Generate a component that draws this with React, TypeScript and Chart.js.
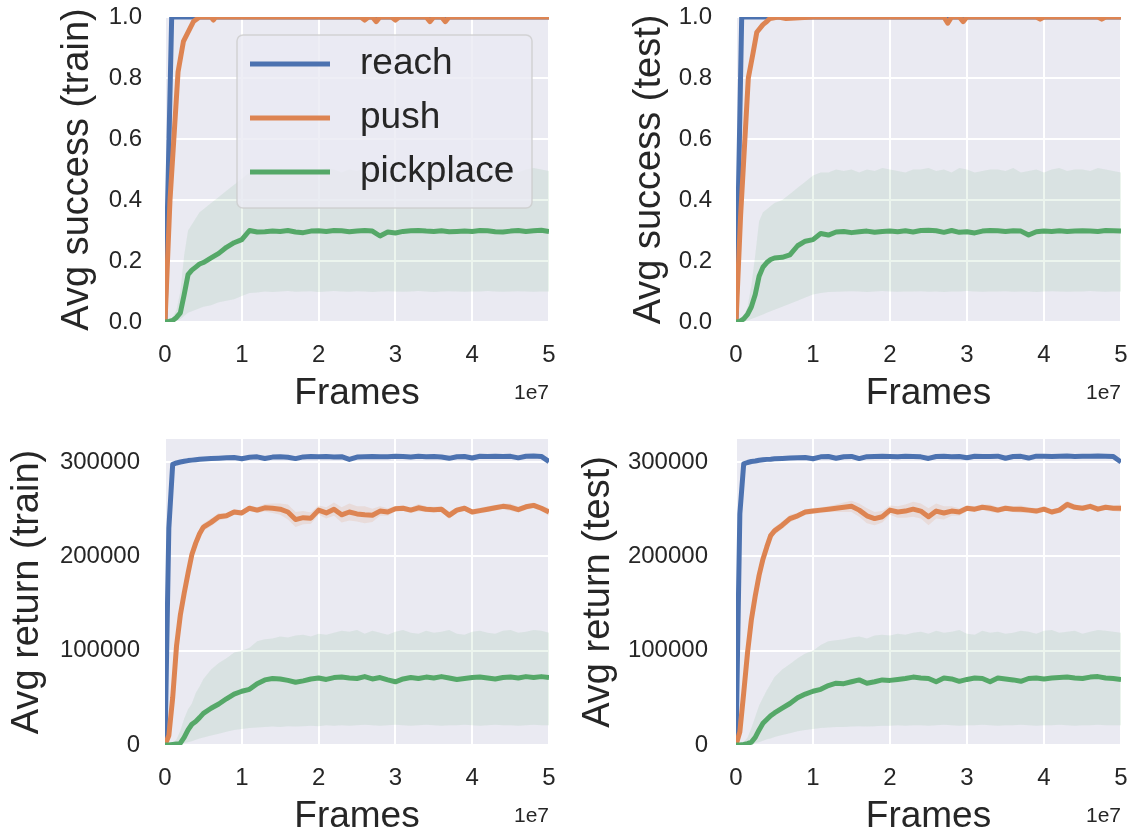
import React, { useEffect, useRef } from 'react';
import { Chart, registerables } from 'chart.js';

Chart.register(...registerables);

const FONT = '"Liberation Sans", Arial, Helvetica, sans-serif';
const TEXT = '#262626';
const BG = '#EAEAF2';
const BLUE = '#4C72B0';
const ORANGE = '#DD8452';
const GREEN = '#55A868';

const SERIES = ['reach', 'push', 'pickplace'];
const X_TICKS = [0, 1, 2, 3, 4, 5]; // frames, in units of 1e7
const SUCCESS_TICKS = [0, 0.2, 0.4, 0.6, 0.8, 1.0];
const RETURN_TICKS = [0, 100000, 200000, 300000];

// Shared x grid (frames / 1e7)
const GRID = [0, 0.05, 0.1, 0.15, 0.2, 0.25, 0.3, 0.35, 0.4, 0.45, 0.5,
  0.6, 0.7, 0.8, 0.9, 1.0, 1.1, 1.2, 1.3, 1.4, 1.5, 1.6, 1.7, 1.8, 1.9, 2.0,
  2.1, 2.2, 2.3, 2.4, 2.5, 2.6, 2.7, 2.8, 2.9, 3.0, 3.1, 3.2, 3.3, 3.4, 3.5,
  3.6, 3.7, 3.8, 3.9, 4.0, 4.1, 4.2, 4.3, 4.4, 4.5, 4.6, 4.7, 4.8, 4.9, 5.0];

// ---------- Avg success (train) ----------
const S_TRAIN_REACH_X = [0, 0.087, 5];
const S_TRAIN_REACH = [0, 1, 1];
const S_TRAIN_PUSH_X = [0, 0.065, 0.17, 0.24, 0.37, 0.45, 0.55, 0.6, 0.63, 0.66, 1.0, 2.0, 2.55, 2.6, 2.65, 2.7, 2.75, 2.8, 2.95, 3.0, 3.05, 3.4, 3.45, 3.5, 3.6, 3.65, 3.7, 5.0];
const S_TRAIN_PUSH = [0, 0.40, 0.82, 0.92, 0.985, 1.0, 1.0, 1.0, 0.99, 1.0, 1.0, 1.0, 1.0, 0.99, 1.0, 1.0, 0.985, 1.0, 1.0, 0.99, 1.0, 1.0, 0.985, 1.0, 1.0, 0.985, 1.0, 1.0];
const S_TRAIN_PICK = [0, 0.002, 0.005, 0.015, 0.03, 0.09, 0.155, 0.17, 0.18, 0.19, 0.195,
  0.21, 0.225, 0.245, 0.26, 0.27, 0.30, 0.295,
  0.296, 0.298, 0.297, 0.300, 0.295, 0.293, 0.298, 0.299, 0.297, 0.300,
  0.299, 0.296, 0.298, 0.300, 0.298, 0.282, 0.295, 0.292, 0.297, 0.299,
  0.300, 0.298, 0.297, 0.299, 0.296, 0.297, 0.298, 0.297, 0.300, 0.299,
  0.296, 0.295, 0.298, 0.300, 0.297, 0.299, 0.301, 0.297];
const S_TRAIN_PICK_UP = [0, 0.005, 0.015, 0.04, 0.1, 0.22, 0.3, 0.32, 0.34, 0.36, 0.37,
  0.39, 0.41, 0.43, 0.45, 0.47, 0.49, 0.48,
  0.495, 0.49, 0.5, 0.495, 0.485, 0.5, 0.49, 0.495, 0.505, 0.5,
  0.49, 0.5, 0.495, 0.505, 0.49, 0.5, 0.495, 0.49, 0.5, 0.505,
  0.495, 0.5, 0.49, 0.495, 0.5, 0.505, 0.495, 0.49, 0.5, 0.495,
  0.505, 0.5, 0.495, 0.49, 0.5, 0.505, 0.5, 0.495];
const S_TRAIN_PICK_LO = [0, 0, 0.002, 0.005, 0.01, 0.02, 0.03, 0.035, 0.04, 0.045, 0.05,
  0.055, 0.065, 0.07, 0.075, 0.085, 0.095, 0.097,
  0.1, 0.098, 0.1, 0.102, 0.099, 0.1, 0.101, 0.098, 0.1, 0.102,
  0.1, 0.099, 0.101, 0.1, 0.098, 0.1, 0.101, 0.1, 0.099, 0.1,
  0.102, 0.1, 0.098, 0.1, 0.101, 0.1, 0.099, 0.1, 0.1, 0.102,
  0.1, 0.099, 0.1, 0.101, 0.1, 0.099, 0.1, 0.1];

// ---------- Avg success (test) ----------
const S_TEST_REACH_X = [0, 0.074, 5];
const S_TEST_REACH = [0, 1, 1];
const S_TEST_PUSH_X = [0, 0.06, 0.16, 0.22, 0.27, 0.35, 0.4, 0.44, 0.55, 0.65, 1.0, 1.7, 2.7, 2.75, 2.8, 2.85, 2.9, 2.95, 3.0, 3.3, 3.9, 3.95, 4.0, 4.7, 4.75, 4.8, 5.0];
const S_TEST_PUSH = [0, 0.35, 0.80, 0.88, 0.95, 0.975, 0.985, 0.995, 1.0, 0.995, 1.0, 1.0, 1.0, 0.98, 1.0, 1.0, 1.0, 0.985, 1.0, 1.0, 1.0, 0.993, 1.0, 1.0, 0.993, 1.0, 1.0];
const S_TEST_PICK = [0, 0.002, 0.01, 0.025, 0.05, 0.09, 0.15, 0.18, 0.195, 0.205, 0.21,
  0.212, 0.22, 0.25, 0.265, 0.27, 0.29, 0.285,
  0.295, 0.297, 0.293, 0.296, 0.298, 0.294, 0.297, 0.298, 0.296, 0.299,
  0.295, 0.3, 0.301, 0.299, 0.294, 0.3, 0.294, 0.296, 0.292, 0.298,
  0.3, 0.299, 0.297, 0.299, 0.298, 0.285, 0.296, 0.298, 0.297, 0.299,
  0.297, 0.298, 0.299, 0.298, 0.297, 0.3, 0.299, 0.298];
const S_TEST_PICK_UP = [0, 0.005, 0.02, 0.05, 0.12, 0.22, 0.33, 0.36, 0.37, 0.38, 0.39,
  0.40, 0.42, 0.44, 0.46, 0.48, 0.49, 0.49,
  0.5, 0.495, 0.5, 0.49, 0.5, 0.495, 0.505, 0.5, 0.495, 0.49,
  0.5, 0.5, 0.505, 0.495, 0.5, 0.49, 0.505, 0.5, 0.49, 0.495,
  0.5, 0.5, 0.495, 0.505, 0.49, 0.495, 0.5, 0.49, 0.5, 0.505,
  0.495, 0.5, 0.5, 0.495, 0.505, 0.5, 0.495, 0.49];
const S_TEST_PICK_LO = [0, 0, 0.002, 0.005, 0.01, 0.015, 0.02, 0.025, 0.03, 0.035, 0.04,
  0.05, 0.06, 0.07, 0.08, 0.09, 0.095, 0.098,
  0.099, 0.1, 0.101, 0.1, 0.098, 0.1, 0.102, 0.1, 0.099, 0.1,
  0.1, 0.101, 0.099, 0.1, 0.098, 0.1, 0.1, 0.102, 0.1, 0.099,
  0.1, 0.1, 0.101, 0.099, 0.1, 0.1, 0.098, 0.1, 0.101, 0.1,
  0.099, 0.1, 0.1, 0.102, 0.1, 0.099, 0.1, 0.1];

// ---------- Avg return (train) ----------
const R_TRAIN_REACH = [0, 230000, 297500, 299000, 300000, 300800, 301500, 302000, 302500, 303000, 303200,
  303600, 304000, 304500, 304800,
  303500, 305000, 305500, 303800, 305200, 305600, 305000, 303600, 305400, 305800,
  305500, 305900, 305200, 305700, 302800, 305300, 305600, 305900, 305700, 305500,
  306000, 305800, 305400, 306000, 305600, 305900, 305300, 303900, 305600, 305800,
  304200, 306100, 305900, 306200, 305800, 306000, 304400, 306100, 306300, 305900,
  300500];
const R_TRAIN_PUSH = [0, 10000, 50000, 105000, 138000, 161000, 182000, 202000, 214000, 224000, 231000,
  236000, 242000, 243000, 247000, 246000, 251000, 249000, 251500, 251000, 250000, 247000, 239000, 241000, 240500, 249000,
  246000, 250000, 244000, 247000, 245000, 244000, 243500, 248000, 247000, 250500,
  251000, 249000, 251500, 250000, 249500, 250000, 243500, 249000, 251000, 247000,
  248500, 250000, 251500, 253000, 252000, 249500, 252500, 254000, 251000, 247000];
const R_TRAIN_PUSH_STD = [0, 1000, 3000, 4000, 4000, 4000, 4000, 4000, 4000, 4000, 4000,
  4000, 4000, 3000, 3000, 3000, 3000, 3000, 4000, 5000, 6000, 8000, 8000, 7000, 6000, 5000,
  6000, 7000, 8000, 9000, 8000, 9000, 7000, 5000, 4000, 3000,
  3000, 3000, 4000, 3000, 3000, 3000, 4000, 3000, 3000, 3000,
  3000, 3000, 3000, 3000, 4000, 3000, 3000, 3000, 3000, 4000];
const R_TRAIN_PICK = [0, 0, 500, 1000, 2000, 8000, 16000, 22000, 25000, 29000, 33500,
  39000, 43500, 49000, 54000, 57000, 59000, 65000,
  69000, 70500, 70000, 68500, 66500, 68000, 70000, 71000, 69500, 71500,
  72000, 71000, 70500, 72500, 70000, 71500, 69000, 67000, 70000, 71500,
  70500, 72000, 71000, 72500, 71000, 69500, 70500, 71500, 72000, 71000,
  70000, 71500, 72000, 71000, 72500, 71500, 72500, 71500];
const R_TRAIN_PICK_UP = [0, 0, 2000, 6000, 15000, 28000, 38000, 44000, 55000, 62000, 70000,
  80000, 87000, 92000, 98000, 100000, 103000, 110000,
  112000, 113000, 115000, 114000, 116000, 117000, 115000, 118000, 117000, 119000,
  121000, 120000, 122000, 118000, 121000, 119000, 117000, 120000, 122000, 119000,
  118000, 121000, 119000, 120000, 122000, 118000, 117000, 120000, 121000, 119000,
  118000, 121000, 122000, 119000, 120000, 122000, 121000, 119000];
const R_TRAIN_PICK_LO = [0, 0, 0, 500, 1000, 2000, 3000, 4000, 5500, 7000, 8000,
  10000, 12000, 14000, 16000, 17000, 18000, 18500,
  19000, 19500, 19000, 20000, 19500, 20000, 20500, 20000, 21000, 20500,
  21000, 20500, 21000, 21500, 21000, 20500, 21000, 21500, 21000, 20500,
  21000, 21500, 21000, 20500, 21000, 21000, 21500, 21000, 20500, 21000,
  21500, 21000, 21000, 20500, 21000, 21500, 21000, 21000];

// ---------- Avg return (test) ----------
const R_TEST_REACH = [0, 245000, 298000, 299500, 300500, 301000, 301800, 302300, 302800, 303000, 303400,
  303800, 304200, 304500, 304800, 303500,
  305500, 305800, 304000, 305600, 305900, 303600, 305700, 305900, 306000, 305800,
  305600, 306100, 305900, 305500, 303800, 305800, 306000, 305700, 305900, 304500,
  306100, 305900, 305800, 306200, 304000, 305900, 306000, 304200, 306200, 306000,
  305800, 306100, 306300, 305900, 306200, 306000, 306300, 306100, 305900,
  300000];
const R_TEST_PUSH = [0, 14000, 55000, 98000, 133000, 158000, 180000, 197000, 210000, 222000, 227000,
  233000, 240000, 243000, 247000, 248000, 249000, 250000, 251000, 252000, 253000, 249000, 243000, 240000, 242000, 249000,
  247000, 248000, 250000, 248000, 242000, 248000, 246000, 248000, 247000, 251000,
  250000, 252000, 251000, 249000, 251000, 250000, 250000, 249000, 248000, 250000,
  247000, 249000, 255000, 252000, 251000, 253000, 250000, 252000, 251000, 251000];
const R_TEST_PUSH_STD = [0, 1000, 3000, 4000, 4000, 4000, 4000, 4000, 4000, 4000, 4000,
  4000, 4000, 3000, 3000, 3000, 3000, 3000, 4000, 5000, 6000, 7000, 8000, 7000, 6000, 5000,
  6000, 7000, 8000, 8000, 9000, 8000, 7000, 5000, 4000, 3000,
  3000, 3000, 4000, 3000, 3000, 3000, 4000, 3000, 3000, 3000,
  3000, 3000, 4000, 3000, 3000, 3000, 3000, 3000, 3000, 4000];
const R_TEST_PICK = [0, 0, 500, 1500, 3000, 8000, 16000, 23000, 27000, 31000, 34000,
  39000, 44000, 50000, 54000, 57000, 59000, 63000,
  65500, 65000, 67000, 69000, 65500, 67000, 69000, 68500, 69500, 70500,
  72000, 71000, 70500, 67000, 71000, 70000, 67500, 69500, 71000, 70500,
  67000, 71000, 70000, 69000, 67500, 70500, 71000, 70000, 71000, 71500,
  72000, 71000, 70500, 72000, 72500, 71000, 70500, 69500];
const R_TEST_PICK_UP = [0, 0, 3000, 8000, 18000, 30000, 42000, 50000, 58000, 65000, 72000,
  80000, 86000, 92000, 97000, 100000, 106000, 110000,
  111000, 112000, 114000, 115000, 113000, 116000, 117000, 116000, 118000, 117000,
  119000, 120000, 118000, 121000, 119000, 120000, 122000, 118000, 117000, 121000,
  119000, 120000, 118000, 119000, 121000, 120000, 118000, 121000, 122000, 119000,
  120000, 121000, 118000, 120000, 122000, 121000, 120000, 119000];
const R_TEST_PICK_LO = [0, 0, 0, 500, 1000, 2000, 3000, 4500, 6000, 7000, 8500,
  10500, 12500, 14500, 16000, 17000, 18000, 18500,
  19000, 19000, 19500, 20000, 19500, 20000, 20500, 20500, 21000, 20500,
  21000, 21000, 20500, 21000, 21500, 21000, 20500, 21000, 21000, 21500,
  21000, 20500, 21000, 21000, 21500, 21000, 20500, 21000, 21000, 21500,
  21000, 20500, 21000, 21000, 21500, 21000, 21000, 21000];

// ---------- helpers ----------
const pts = (xs: number[], ys: number[]) => xs.map((x, i) => ({ x, y: ys[i] }));
const plus = (ys: number[], sd: number[]) => ys.map((v, i) => v + sd[i]);
const minus = (ys: number[], sd: number[]) => ys.map((v, i) => v - sd[i]);

const LINE_W = 5;

const lineDs = (label: string, data: any[], color: string, order: number) => ({
  label, data, borderColor: color, backgroundColor: color, borderWidth: LINE_W,
  pointRadius: 0, fill: false, order, borderJoinStyle: 'round', tension: 0,
});
const bandDs = (up: any[], lo: any[], fillColor: string, order: number) => [
  { data: up, borderWidth: 0, pointRadius: 0, backgroundColor: fillColor, fill: '+1', order, isBand: true },
  { data: lo, borderWidth: 0, pointRadius: 0, backgroundColor: fillColor, fill: false, order, isBand: true },
];

const GREEN_BAND = 'rgba(85,168,104,0.11)';
const ORANGE_BAND = 'rgba(221,132,82,0.15)';

const bgPlugin = {
  id: 'sbBackground',
  beforeDraw(chart: any) {
    const { ctx, chartArea: a } = chart;
    ctx.save();
    ctx.fillStyle = BG;
    ctx.fillRect(a.left, a.top, a.right - a.left, a.bottom - a.top);
    ctx.restore();
  },
};

const offsetPlugin = {
  id: 'sbOffset',
  afterDraw(chart: any) {
    const { ctx, chartArea: a } = chart;
    ctx.save();
    ctx.font = `21px ${FONT}`;
    ctx.fillStyle = TEXT;
    ctx.textAlign = 'right';
    ctx.textBaseline = 'middle';
    ctx.fillText('1e7', a.right, a.bottom + 71);
    ctx.restore();
  },
};

const legendPlugin = {
  id: 'sbLegend',
  afterDraw(chart: any) {
    const { ctx, chartArea: a } = chart;
    const items = chart.data.datasets.filter((d: any) => d.label);
    const x0 = a.left + 72, y0 = a.top + 18, w = 295, h = 173, r = 6;
    ctx.save();
    ctx.beginPath();
    ctx.moveTo(x0 + r, y0);
    ctx.arcTo(x0 + w, y0, x0 + w, y0 + h, r);
    ctx.arcTo(x0 + w, y0 + h, x0, y0 + h, r);
    ctx.arcTo(x0, y0 + h, x0, y0, r);
    ctx.arcTo(x0, y0, x0 + w, y0, r);
    ctx.closePath();
    ctx.fillStyle = 'rgba(234,234,242,0.8)';
    ctx.fill();
    ctx.strokeStyle = 'rgba(204,204,204,0.8)';
    ctx.lineWidth = 1.5;
    ctx.stroke();
    items.forEach((d: any, i: number) => {
      const cy = y0 + 29 + i * 54;
      ctx.strokeStyle = d.borderColor;
      ctx.lineWidth = LINE_W;
      ctx.lineCap = 'butt';
      ctx.beginPath();
      ctx.moveTo(x0 + 13, cy);
      ctx.lineTo(x0 + 93, cy);
      ctx.stroke();
      ctx.fillStyle = TEXT;
      ctx.font = `37px ${FONT}`;
      ctx.textAlign = 'left';
      ctx.textBaseline = 'middle';
      ctx.fillText(d.label, x0 + 123, cy);
    });
    ctx.restore();
  },
};

type PanelSpec = {
  left: number; top: number; width: number; height: number;
  padTop: number; padRight: number; yAxisW: number; xAxisH: number;
  yTitle: string; yTitlePad: number; yTickPad: number; xTitlePad: number;
  ymax: number; yTicks: number[]; yFmt: (v: number) => string;
  datasets: any[]; legend: boolean;
};

function makeConfig(p: PanelSpec): any {
  return {
    type: 'line',
    data: { datasets: p.datasets },
    options: {
      animation: false,
      responsive: false,
      devicePixelRatio: 1,
      parsing: true,
      layout: { padding: { left: 0, right: p.padRight, top: p.padTop, bottom: 0 } },
      plugins: { legend: { display: false }, tooltip: { enabled: false } },
      elements: { point: { radius: 0 } },
      scales: {
        x: {
          type: 'linear', min: 0, max: 5,
          afterBuildTicks: (ax: any) => { ax.ticks = X_TICKS.map((v) => ({ value: v })); },
          afterFit: (ax: any) => { ax.height = p.xAxisH; ax.paddingLeft = 0; ax.paddingRight = 0; },
          grid: { color: '#ffffff', lineWidth: 2, drawTicks: false },
          border: { display: false },
          ticks: {
            padding: 19, color: TEXT, font: { family: FONT, size: 24 }, maxRotation: 0, autoSkip: false,
            callback: (v: number) => String(v),
          },
          title: {
            display: true, text: 'Frames', color: TEXT, font: { family: FONT, size: 37 },
            padding: { top: 0, bottom: p.xTitlePad },
          },
        },
        y: {
          type: 'linear', min: 0, max: p.ymax,
          afterBuildTicks: (ax: any) => { ax.ticks = p.yTicks.map((v) => ({ value: v })); },
          afterFit: (ax: any) => { ax.width = p.yAxisW; ax.paddingTop = 0; ax.paddingBottom = 0; },
          grid: { color: '#ffffff', lineWidth: 2, drawTicks: false },
          border: { display: false },
          ticks: {
            padding: p.yTickPad, color: TEXT, font: { family: FONT, size: 24 }, autoSkip: false,
            callback: (v: number) => p.yFmt(v),
          },
          title: {
            display: true, text: p.yTitle, color: TEXT, font: { family: FONT, size: 38 },
            padding: { top: p.yTitlePad, bottom: 0 },
          },
        },
      },
    },
    plugins: p.legend ? [bgPlugin, offsetPlugin, legendPlugin] : [bgPlugin, offsetPlugin],
  };
}

const fmtSuccess = (v: number) => v.toFixed(1);
const fmtReturn = (v: number) => String(Math.round(v));

const PANELS: PanelSpec[] = [
  {
    left: 0, top: 0, width: 570, height: 425, padTop: 17, padRight: 21, yAxisW: 165, xAxisH: 103,
    yTitle: 'Avg success (train)', yTitlePad: 55, yTickPad: 23, xTitlePad: 9,
    ymax: 1, yTicks: SUCCESS_TICKS, yFmt: fmtSuccess, legend: true,
    datasets: [
      ...bandDs(pts(GRID, S_TRAIN_PICK_UP), pts(GRID, S_TRAIN_PICK_LO), GREEN_BAND, 10),
      lineDs(SERIES[0], pts(S_TRAIN_REACH_X, S_TRAIN_REACH), BLUE, 3),
      lineDs(SERIES[1], pts(S_TRAIN_PUSH_X, S_TRAIN_PUSH), ORANGE, 2),
      lineDs(SERIES[2], pts(GRID, S_TRAIN_PICK), GREEN, 1),
    ],
  },
  {
    left: 570, top: 0, width: 560, height: 425, padTop: 17, padRight: 9, yAxisW: 166, xAxisH: 103,
    yTitle: 'Avg success (test)', yTitlePad: 57, yTickPad: 24, xTitlePad: 9,
    ymax: 1, yTicks: SUCCESS_TICKS, yFmt: fmtSuccess, legend: false,
    datasets: [
      ...bandDs(pts(GRID, S_TEST_PICK_UP), pts(GRID, S_TEST_PICK_LO), GREEN_BAND, 10),
      lineDs(SERIES[0], pts(S_TEST_REACH_X, S_TEST_REACH), BLUE, 3),
      lineDs(SERIES[1], pts(S_TEST_PUSH_X, S_TEST_PUSH), ORANGE, 2),
      lineDs(SERIES[2], pts(GRID, S_TEST_PICK), GREEN, 1),
    ],
  },
  {
    left: 0, top: 425, width: 570, height: 420, padTop: 14, padRight: 21, yAxisW: 165, xAxisH: 100,
    yTitle: 'Avg return (train)', yTitlePad: 5, yTickPad: 25, xTitlePad: 6,
    ymax: 324400, yTicks: RETURN_TICKS, yFmt: fmtReturn, legend: false,
    datasets: [
      ...bandDs(pts(GRID, R_TRAIN_PICK_UP), pts(GRID, R_TRAIN_PICK_LO), GREEN_BAND, 10),
      ...bandDs(pts(GRID, plus(R_TRAIN_PUSH, R_TRAIN_PUSH_STD)), pts(GRID, minus(R_TRAIN_PUSH, R_TRAIN_PUSH_STD)), ORANGE_BAND, 9),
      lineDs(SERIES[0], pts(GRID, R_TRAIN_REACH), BLUE, 3),
      lineDs(SERIES[1], pts(GRID, R_TRAIN_PUSH), ORANGE, 2),
      lineDs(SERIES[2], pts(GRID, R_TRAIN_PICK), GREEN, 1),
    ],
  },
  {
    left: 570, top: 425, width: 560, height: 420, padTop: 14, padRight: 9, yAxisW: 166, xAxisH: 100,
    yTitle: 'Avg return (test)', yTitlePad: 6, yTickPad: 28, xTitlePad: 6,
    ymax: 324400, yTicks: RETURN_TICKS, yFmt: fmtReturn, legend: false,
    datasets: [
      ...bandDs(pts(GRID, R_TEST_PICK_UP), pts(GRID, R_TEST_PICK_LO), GREEN_BAND, 10),
      ...bandDs(pts(GRID, plus(R_TEST_PUSH, R_TEST_PUSH_STD)), pts(GRID, minus(R_TEST_PUSH, R_TEST_PUSH_STD)), ORANGE_BAND, 9),
      lineDs(SERIES[0], pts(GRID, R_TEST_REACH), BLUE, 3),
      lineDs(SERIES[1], pts(GRID, R_TEST_PUSH), ORANGE, 2),
      lineDs(SERIES[2], pts(GRID, R_TEST_PICK), GREEN, 1),
    ],
  },
];

function Panel({ spec }: { spec: PanelSpec }) {
  const ref = useRef<HTMLCanvasElement | null>(null);
  useEffect(() => {
    if (!ref.current) return;
    const chart = new Chart(ref.current, makeConfig(spec));
    return () => chart.destroy();
  }, [spec]);
  return (
    <div style={{ position: 'absolute', left: spec.left, top: spec.top, width: spec.width, height: spec.height }}>
      <canvas ref={ref} width={spec.width} height={spec.height}
        style={{ display: 'block', width: spec.width, height: spec.height }} />
    </div>
  );
}

export default function App() {
  return (
    <div style={{ position: 'fixed', left: 0, top: 0, width: 1130, height: 831, overflow: 'hidden', background: '#ffffff' }}>
      {PANELS.map((p, i) => <Panel key={i} spec={p} />)}
    </div>
  );
}
